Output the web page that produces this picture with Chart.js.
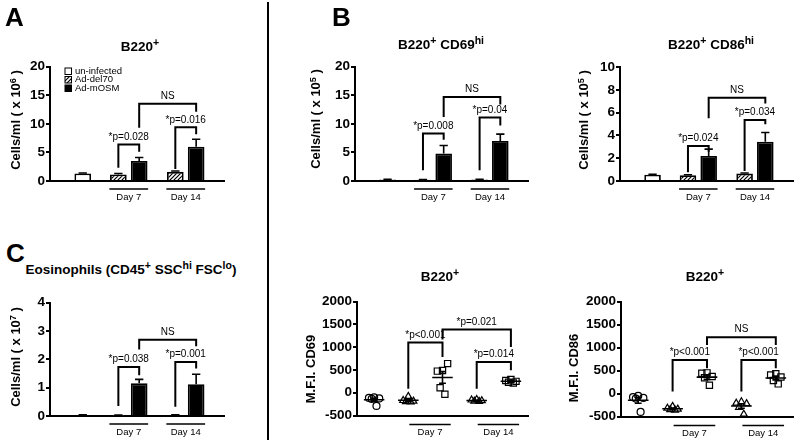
<!DOCTYPE html>
<html>
<head>
<meta charset="utf-8">
<script src="https://cdn.jsdelivr.net/npm/chart.js@4.4.1/dist/chart.umd.min.js"></script>
<style>
  html, body { margin: 0; padding: 0; background: #fff; }
  #fig { position: relative; width: 800px; height: 442px; overflow: hidden;
         font-family: "Liberation Sans", Arial, sans-serif; color: #000; }
  #fig canvas { position: absolute; }
  .t { position: absolute; white-space: nowrap; line-height: 1; font-weight: bold;
       transform: translate(-50%, -50%); }
  .t sup { font-size: 78%; position: relative; top: -0.5em; vertical-align: baseline; line-height: 0; }
  .rot { transform: translate(-50%, -50%) rotate(-90deg); }
  .rot sup { font-size: 70%; top: -0.45em; }
  .letter { position: absolute; font-weight: bold; font-size: 26px; line-height: 1; }
  #divider { position: absolute; left: 267px; top: 2px; width: 2px; height: 438px; background: #000; }
</style>
</head>
<body>
<div id="fig"><div id="divider"></div></div>
<script>
// ---------- data ----------
var seriesNames = ['un-infected', 'Ad-del70', 'Ad-mOSM'];
var dayLabels = ['Day 7', 'Day 14'];

// tick labels
var ticksCells20 = [0, 5, 10, 15, 20];
var ticksCells10 = [0, 2, 4, 6, 8, 10];
var ticksCells4 = [0, 1, 2, 3, 4];
var ticksMfi = [-500, 0, 500, 1000, 1500, 2000];

// A: B220+ (x 10^6)
var b220Uninf = [1.3], b220UninfErr = [0.1];
var b220Del70 = [1.15, 1.6], b220Del70Err = [0.15, 0.15];
var b220Mosm = [3.5, 6.0], b220MosmErr = [0.6, 1.3];
var b220Brackets = [
  ['del7', 'mosm7', 6.4, 2.3, 5.1, '*p=0.028'],
  ['mosm7', 'mosm14', 13.5, 9.3, 12.1, 'NS'],
  ['del14', 'mosm14', 9.4, 2.1, 8.2, '*p=0.016']
];

// B: B220+ CD69hi (x 10^5)
var cd69Uninf = [0.25], cd69UninfErr = [0.05];
var cd69Del70 = [0.2, 0.25], cd69Del70Err = [0.05, 0.05];
var cd69Mosm = [4.8, 7.0], cd69MosmErr = [1.4, 1.2];
var cd69Brackets = [
  ['del7', 'mosm7', 8.3, 1.9, 7.2, '*p=0.008'],
  ['mosm7', 'mosm14', 14.7, 11.2, 13.4, 'NS'],
  ['del14', 'mosm14', 11.1, 1.9, 9.7, '*p=0.04']
];

// B: B220+ CD86hi (x 10^5)
var cd86Uninf = [0.55], cd86UninfErr = [0.03];
var cd86Del70 = [0.5, 0.65], cd86Del70Err = [0.05, 0.05];
var cd86Mosm = [2.2, 3.45], cd86MosmErr = [0.6, 0.8];
var cd86Brackets = [
  ['del7', 'mosm7', 3.07, 0.76, 2.57, '*p=0.024'],
  ['mosm7', 'mosm14', 7.3, 5.5, 6.8, 'NS'],
  ['del14', 'mosm14', 5.35, 0.88, 4.97, '*p=0.034']
];

// C: Eosinophils (x 10^7)
var eosUninf = [0.03], eosUninfErr = [0.01];
var eosDel70 = [0.02, 0.03], eosDel70Err = [0.01, 0.01];
var eosMosm = [1.15, 1.12], eosMosmErr = [0.14, 0.35];
var eosBrackets = [
  ['del7', 'mosm7', 1.73, 0.35, 1.44, '*p=0.038'],
  ['mosm7', 'mosm14', 2.69, 2.34, 2.46, 'NS'],
  ['del14', 'mosm14', 1.9, 0.33, 1.67, '*p=0.001']
];

// B: M.F.I. CD69, individual mice
var mfi69Uninf = [-100, -115, -125, -135, -290];
var mfi69Del70D7 = [-80, -170, -185, -195, -200];
var mfi69MosmD7 = [490, 475, 640, 110, -35];
var mfi69Del70D14 = [-150, -160, -175, -185, -190];
var mfi69MosmD14 = [290, 270, 250, 230, 215];
var mfi69Brackets = [
  ['del7', 'mosm7', 1103, 88, 785, '*p<0.001'],
  ['mosm7', 'mosm14', 1390, 1169, 1006, '*p=0.021'],
  ['del14', 'mosm14', 675, 88, 492, '*p=0.014']
];

// B: M.F.I. CD86, individual mice
var mfi86Uninf = [-50, -80, -95, -110, -400];
var mfi86Del70D7 = [-280, -320, -340, -350, -360];
var mfi86MosmD7 = [450, 440, 370, 345, 180];
var mfi86Del70D14 = [-180, -210, -220, -300, -450];
var mfi86MosmD14 = [430, 405, 360, 285, 210];
var mfi86Brackets = [
  ['del7', 'mosm7', 733, 43, 552, '*p<0.001'],
  ['mosm7', 'mosm14', 1226, 1059, 1059, 'NS'],
  ['del14', 'mosm14', 733, 43, 552, '*p<0.001']
];

// ---------- layout ----------
var FONT = '"Liberation Sans", Arial, sans-serif';
Chart.defaults.font.family = FONT;
Chart.defaults.color = '#000';

var fig = document.getElementById('fig');

// bar groups on a linear x axis, one unit = one bar slot
var X_UNINF = 0, X_DAY = [2.21, 4.945], HALF = 0.5;
var barX = { del7: X_DAY[0] - HALF, mosm7: X_DAY[0] + HALF, del14: X_DAY[1] - HALF, mosm14: X_DAY[1] + HALF };
// dot plot groups: un-infected, del70 d7, mOSM d7, del70 d14, mOSM d14
var dotX = { del7: 1, mosm7: 2, del14: 3, mosm14: 4 };
var jitter = [0, -0.15, 0.15, -0.07, 0.07];

// hatch pattern for Ad-del70
var pc = document.createElement('canvas');
pc.width = pc.height = 4;
var pg = pc.getContext('2d');
pg.fillStyle = '#fff'; pg.fillRect(0, 0, 4, 4);
pg.strokeStyle = '#000'; pg.lineWidth = 1.2;
pg.beginPath();
pg.moveTo(0, 4); pg.lineTo(4, 0);
pg.moveTo(-1, 1); pg.lineTo(1, -1);
pg.moveTo(3, 5); pg.lineTo(5, 3);
pg.stroke();
var hatch = pg.createPattern(pc, 'repeat');

// ---------- plugins ----------
var errorBars = {
  id: 'errorBars',
  afterDatasetsDraw: function(chart) {
    var ctx = chart.ctx, y = chart.scales.y;
    chart.data.datasets.forEach(function(ds, i) {
      if (!ds.errors) return;
      chart.getDatasetMeta(i).data.forEach(function(bar, j) {
        var top = y.getPixelForValue(ds.data[j].y + ds.errors[j]);
        var half = bar.width * 0.25;
        ctx.save();
        ctx.strokeStyle = '#000';
        ctx.lineWidth = 1.6;
        ctx.beginPath();
        ctx.moveTo(bar.x, bar.y); ctx.lineTo(bar.x, top);
        ctx.moveTo(bar.x - half, top); ctx.lineTo(bar.x + half, top);
        ctx.stroke();
        ctx.restore();
      });
    });
  }
};

var brackets = {
  id: 'brackets',
  afterDatasetsDraw: function(chart, args, opts) {
    var ctx = chart.ctx, x = chart.scales.x, y = chart.scales.y;
    (opts.items || []).forEach(function(b) {
      var x1 = x.getPixelForValue(opts.pos[b[0]]), x2 = x.getPixelForValue(opts.pos[b[1]]);
      var yt = y.getPixelForValue(b[2]);
      ctx.save();
      ctx.strokeStyle = '#000';
      ctx.lineWidth = 2;
      ctx.beginPath();
      ctx.moveTo(x1, y.getPixelForValue(b[3]));
      ctx.lineTo(x1, yt);
      ctx.lineTo(x2, yt);
      ctx.lineTo(x2, y.getPixelForValue(b[4]));
      ctx.stroke();
      ctx.fillStyle = '#000';
      ctx.font = '10px ' + FONT;
      ctx.textAlign = 'center';
      ctx.textBaseline = 'middle';
      ctx.fillText(b[5], (x1 + x2) / 2, yt - 7.5);
      ctx.restore();
    });
  }
};

var dayAxis = {
  id: 'dayAxis',
  afterDraw: function(chart, args, opts) {
    var ctx = chart.ctx, x = chart.scales.x, base = chart.chartArea.bottom;
    (opts.items || []).forEach(function(d) {
      var x1 = x.getPixelForValue(d[0]), x2 = x.getPixelForValue(d[1]);
      var yl = base + opts.gap;
      ctx.save();
      ctx.strokeStyle = '#000';
      ctx.lineWidth = 1.5;
      ctx.beginPath();
      ctx.moveTo(x1, yl); ctx.lineTo(x2, yl);
      ctx.stroke();
      ctx.fillStyle = '#000';
      ctx.font = '9.5px ' + FONT;
      ctx.textAlign = 'center';
      ctx.textBaseline = 'middle';
      ctx.fillText(d[2], (x1 + x2) / 2, yl + 8);
      ctx.restore();
    });
  }
};

var barLegend = {
  id: 'barLegend',
  afterDraw: function(chart, args, opts) {
    if (!opts.show) return;
    var ctx = chart.ctx, a = chart.chartArea;
    chart.data.datasets.forEach(function(ds, i) {
      var bx = a.left + 15, cy = a.top + 4.5 + i * 8.5;
      ctx.save();
      ctx.fillStyle = ds.backgroundColor;
      ctx.fillRect(bx, cy - 3.2, 6.5, 6.5);
      ctx.strokeStyle = '#000';
      ctx.lineWidth = 1;
      ctx.strokeRect(bx, cy - 3.2, 6.5, 6.5);
      ctx.fillStyle = '#000';
      ctx.font = '9.5px ' + FONT;
      ctx.textBaseline = 'middle';
      ctx.fillText(ds.label, bx + 10, cy);
      ctx.restore();
    });
  }
};

var meanSem = {
  id: 'meanSem',
  afterDatasetsDraw: function(chart) {
    var ctx = chart.ctx, x = chart.scales.x, y = chart.scales.y;
    var unit = x.getPixelForValue(1) - x.getPixelForValue(0);
    chart.data.datasets.forEach(function(ds) {
      var groups = {};
      ds.data.forEach(function(p) {
        var g = Math.round(p.x);
        (groups[g] = groups[g] || []).push(p.y);
      });
      Object.keys(groups).forEach(function(g) {
        var v = groups[g], n = v.length;
        var m = v.reduce(function(s, a) { return s + a; }, 0) / n;
        var sd = Math.sqrt(v.reduce(function(s, a) { return s + (a - m) * (a - m); }, 0) / (n - 1));
        var sem = sd / Math.sqrt(n);
        var cx = x.getPixelForValue(+g), ym = y.getPixelForValue(m);
        var yh = y.getPixelForValue(m + sem), yl = y.getPixelForValue(m - sem);
        ctx.save();
        ctx.strokeStyle = '#000';
        ctx.lineWidth = 1.6;
        ctx.beginPath();
        ctx.moveTo(cx - 0.3 * unit, ym); ctx.lineTo(cx + 0.3 * unit, ym);
        ctx.moveTo(cx, yh); ctx.lineTo(cx, yl);
        ctx.moveTo(cx - 0.1 * unit, yh); ctx.lineTo(cx + 0.1 * unit, yh);
        ctx.moveTo(cx - 0.1 * unit, yl); ctx.lineTo(cx + 0.1 * unit, yl);
        ctx.stroke();
        ctx.restore();
      });
    });
  }
};

// ---------- helpers ----------
function makeCanvas(box) {
  var c = document.createElement('canvas');
  c.width = box.w; c.height = box.h;
  c.style.left = box.x + 'px'; c.style.top = box.y + 'px';
  c.style.width = box.w + 'px'; c.style.height = box.h + 'px';
  fig.appendChild(c);
  return c;
}

function scalesFor(box, area, yTicks, xMin, xMax) {
  return {
    x: {
      type: 'linear', min: xMin, max: xMax,
      ticks: { display: false, stepSize: 1, includeBounds: false },
      grid: { display: false },
      border: { display: true, color: '#000', width: 2 },
      afterFit: function(s) { s.height = box.y + box.h - area.bottom; }
    },
    y: {
      type: 'linear', min: yTicks[0], max: yTicks[yTicks.length - 1],
      afterBuildTicks: function(s) { s.ticks = yTicks.map(function(v) { return { value: v }; }); },
      ticks: { color: '#000', padding: 1, font: { size: 13.5, weight: 'bold' },
               callback: function(v) { return String(v); } },
      grid: { drawOnChartArea: false, drawTicks: true, tickLength: 4, color: '#000', lineWidth: 2 },
      border: { display: true, color: '#000', width: 2 },
      afterFit: function(s) { s.width = area.left - box.x; }
    }
  };
}

function paddingFor(box, area) {
  return { left: 0, bottom: 0, top: area.top - box.y, right: box.x + box.w - area.right };
}

function pts(xs, vals) {
  return vals.map(function(v, i) { return { x: xs[i], y: v }; });
}

function barPanel(box, area, yTicks, uninf, uninfErr, del70, del70Err, mosm, mosmErr, notes, legend) {
  new Chart(makeCanvas(box), {
    type: 'bar',
    data: {
      datasets: [
        { label: seriesNames[0], data: pts([X_UNINF], uninf), errors: uninfErr, backgroundColor: '#fff' },
        { label: seriesNames[1], data: pts([barX.del7, barX.del14], del70), errors: del70Err, backgroundColor: hatch },
        { label: seriesNames[2], data: pts([barX.mosm7, barX.mosm14], mosm), errors: mosmErr, backgroundColor: '#000' }
      ]
    },
    options: {
      responsive: false, animation: false,
      layout: { padding: paddingFor(box, area) },
      datasets: { bar: { grouped: false, borderColor: '#000', borderWidth: 1.8, barPercentage: 0.8, categoryPercentage: 1 } },
      scales: scalesFor(box, area, yTicks, -1.05, 6.26),
      plugins: {
        legend: { display: false }, tooltip: { enabled: false },
        brackets: { items: notes, pos: barX },
        dayAxis: { gap: 8, items: [
          [barX.del7 - 0.43, barX.mosm7 + 0.43, dayLabels[0]],
          [barX.del14 - 0.43, barX.mosm14 + 0.43, dayLabels[1]]
        ] },
        barLegend: { show: legend }
      }
    },
    plugins: [errorBars, brackets, dayAxis, barLegend]
  });
}

function dotSet(label, style, radius, groups) {
  var data = [];
  groups.forEach(function(g) {
    g[1].forEach(function(v, i) { data.push({ x: g[0] + jitter[i % jitter.length], y: v }); });
  });
  return { label: label, data: data, pointStyle: style, pointRadius: radius,
           borderColor: '#000', borderWidth: 1.2, backgroundColor: 'rgba(0,0,0,0)' };
}

function dotPanel(box, area, uninf, del7, mosm7, del14, mosm14, notes) {
  new Chart(makeCanvas(box), {
    type: 'scatter',
    data: {
      datasets: [
        dotSet(seriesNames[0], 'circle', 3.5, [[0, uninf]]),
        dotSet(seriesNames[1], 'triangle', 4, [[dotX.del7, del7], [dotX.del14, del14]]),
        dotSet(seriesNames[2], 'rect', 4.4, [[dotX.mosm7, mosm7], [dotX.mosm14, mosm14]])
      ]
    },
    options: {
      responsive: false, animation: false, clip: false,
      layout: { padding: paddingFor(box, area) },
      scales: scalesFor(box, area, ticksMfi, -0.5, 4.5),
      plugins: {
        legend: { display: false }, tooltip: { enabled: false },
        brackets: { items: notes, pos: dotX },
        dayAxis: { gap: 9, items: [
          [dotX.del7 + 0.03, dotX.mosm7 + 0.24, dayLabels[0]],
          [dotX.del14 + 0.03, dotX.mosm14 + 0.24, dayLabels[1]]
        ] }
      }
    },
    plugins: [meanSem, brackets, dayAxis]
  });
}

function text(html, x, y, size, rotate) {
  var d = document.createElement('div');
  d.className = 't' + (rotate ? ' rot' : '');
  d.style.left = x + 'px'; d.style.top = y + 'px';
  d.style.fontSize = size + 'px';
  d.innerHTML = html;
  fig.appendChild(d);
}

function letter(ch, x, capTop) {
  var d = document.createElement('div');
  d.className = 'letter';
  d.style.left = x + 'px'; d.style.top = (capTop - 3.4) + 'px';
  d.textContent = ch;
  fig.appendChild(d);
}

// ---------- panels ----------
barPanel({ x: 0, y: 30, w: 262, h: 185 }, { left: 50, top: 66.7, right: 224, bottom: 181 },
  ticksCells20, b220Uninf, b220UninfErr, b220Del70, b220Del70Err, b220Mosm, b220MosmErr, b220Brackets, true);
barPanel({ x: 300, y: 30, w: 240, h: 185 }, { left: 355, top: 66.7, right: 528, bottom: 181 },
  ticksCells20, cd69Uninf, cd69UninfErr, cd69Del70, cd69Del70Err, cd69Mosm, cd69MosmErr, cd69Brackets, false);
barPanel({ x: 570, y: 30, w: 230, h: 185 }, { left: 620, top: 67, right: 793, bottom: 181 },
  ticksCells10, cd86Uninf, cd86UninfErr, cd86Del70, cd86Del70Err, cd86Mosm, cd86MosmErr, cd86Brackets, false);
barPanel({ x: 0, y: 280, w: 262, h: 162 }, { left: 50, top: 302.5, right: 224, bottom: 416 },
  ticksCells4, eosUninf, eosUninfErr, eosDel70, eosDel70Err, eosMosm, eosMosmErr, eosBrackets, false);
dotPanel({ x: 300, y: 280, w: 240, h: 162 }, { left: 357, top: 301.7, right: 528, bottom: 415.5 },
  mfi69Uninf, mfi69Del70D7, mfi69MosmD7, mfi69Del70D14, mfi69MosmD14, mfi69Brackets);
dotPanel({ x: 570, y: 280, w: 230, h: 162 }, { left: 621, top: 301.7, right: 793, bottom: 416.5 },
  mfi86Uninf, mfi86Del70D7, mfi86MosmD7, mfi86Del70D14, mfi86MosmD14, mfi86Brackets);

// titles and labels
letter('A', 5, 7);
letter('B', 332, 7);
letter('C', 6, 243);

text('B220<sup>+</sup>', 140, 47, 13.5);
text('B220<sup>+</sup> CD69<sup>hi</sup>', 441, 45, 13.5);
text('B220<sup>+</sup> CD86<sup>hi</sup>', 711, 45, 13.5);
text('Eosinophils (CD45<sup>+</sup> SSC<sup>hi</sup> FSC<sup>lo</sup>)', 131, 270, 13.5);
text('B220<sup>+</sup>', 440, 277, 13.5);
text('B220<sup>+</sup>', 705, 277, 13.5);

text('Cells/ml ( x 10<sup>6</sup> )', 15, 120, 13, true);
text('Cells/ml ( x 10<sup>5</sup> )', 315, 119, 13, true);
text('Cells/ml ( x 10<sup>5</sup> )', 583, 120, 13, true);
text('Cells/ml ( x 10<sup>7</sup> )', 15, 357, 13, true);
text('M.F.I. CD69', 310, 369, 13, true);
text('M.F.I. CD86', 573, 368, 13, true);
</script>
</body>
</html>
